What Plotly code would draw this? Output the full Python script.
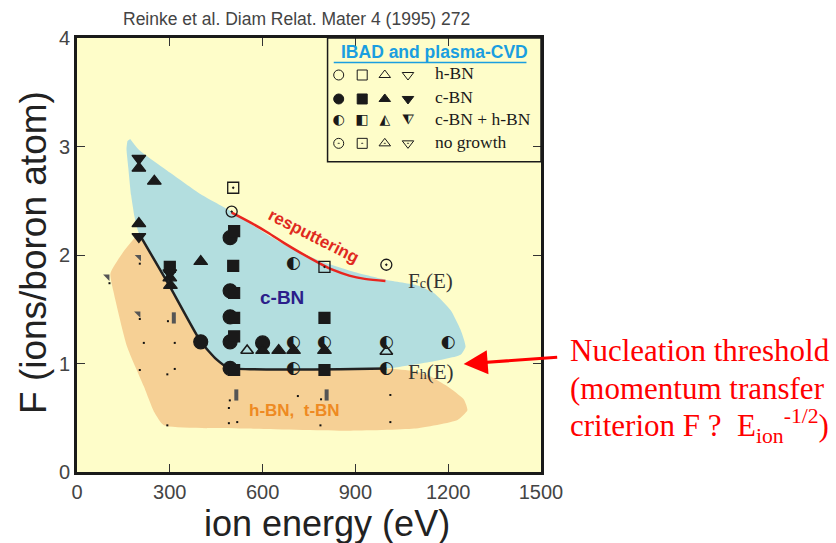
import plotly.graph_objects as go

# ---- phase regions (ion energy in eV, F in ions per boron atom) ----
cbn_region_x = [172, 200, 300, 400, 500, 560, 620, 700, 800, 900, 1000, 1101, 1154, 1208, 1240, 1256,
                1240, 1154, 1046, 1000, 490, 450, 400, 300, 200, 186, 175, 166, 160, 163]
cbn_region_y = [3.07, 2.97, 2.76, 2.56, 2.40, 2.29, 2.18, 2.05, 1.93, 1.84, 1.77, 1.72, 1.65, 1.49, 1.31,
                1.155, 1.08, 1.02, 0.97, 0.955, 0.96, 1.04, 1.20, 1.71, 2.20, 2.35, 2.55, 2.80, 2.98, 3.05]

hbn_region_x = [200, 300, 400, 450, 490, 1000, 1090, 1143, 1197, 1250, 1262, 1230, 1090, 875, 550, 281,
                250, 216, 162, 119, 108, 150, 190]
hbn_region_y = [2.20, 1.71, 1.20, 1.04, 0.96, 0.955, 0.93, 0.88, 0.79, 0.67, 0.57, 0.48, 0.40, 0.38, 0.40,
                0.43, 0.55, 0.79, 1.155, 1.65, 1.83, 2.03, 2.17]

# ---- boundary curves ----
fh_x = [200, 300, 400, 450, 490, 1000]
fh_y = [2.20, 1.71, 1.20, 1.04, 0.96, 0.955]

resputter_x = [500, 560, 615, 670, 723, 780, 830, 880, 930, 997]
resputter_y = [2.39, 2.30, 2.21, 2.11, 2.02, 1.93, 1.86, 1.81, 1.78, 1.76]

# ---- experimental points ----
cbn_circle_x = [495, 495, 495, 495, 495, 400, 600]
cbn_circle_y = [2.16, 1.67, 1.43, 1.20, 0.955, 1.20, 1.19]

cbn_square_x = [508, 505, 508, 508, 508, 508, 300, 800, 800]
cbn_square_y = [2.22, 1.90, 1.65, 1.42, 1.25, 0.94, 1.89, 1.42, 0.94]

cbn_tri_up_x = [200, 250, 200, 400, 300, 302, 600, 652, 700, 800]
cbn_tri_up_y = [2.80, 2.68, 2.29, 1.94, 1.79, 1.72, 1.12, 1.12, 1.12, 1.12]

cbn_tri_down_x = [200, 200, 300]
cbn_tri_down_y = [2.89, 2.17, 1.835]

hbn_tri_up_x = [550, 1000]
hbn_tri_up_y = [1.12, 1.11]

mixed_circle_x = [700, 700, 800, 1000, 1200, 700, 1000]
mixed_circle_y = [1.92, 1.19, 1.19, 1.19, 1.19, 0.955, 0.955]

nogrowth_circle_x = [500, 1000]
nogrowth_circle_y = [2.40, 1.91]

nogrowth_square_x = [505, 800]
nogrowth_square_y = [2.62, 1.89]

# partly hidden marks under the h-BN field
hidden_tri_x = [200, 98, 198]
hidden_tri_y = [1.98, 1.80, 1.46]
hidden_bar_x = [313, 515, 807]
hidden_bar_y = [1.42, 0.71, 0.71]
hidden_dot_x = [203, 105, 203, 294, 216, 316, 203, 316, 292, 494, 491, 518, 491, 714, 789, 787, 1013, 1013, 292]
hidden_dot_y = [1.92, 1.74, 1.41, 1.39, 1.19, 1.19, 0.94, 0.95, 0.90, 0.66, 0.59, 0.46, 0.45, 0.70, 0.67,
                0.43, 0.71, 0.46, 0.43]

# ---- legend key (inside the plot) ----
key_cols_x = [846, 922, 995, 1070]
key_rows_y = [3.659, 3.438, 3.238, 3.029]
key_labels = ["h-BN", "c-BN", "c-BN + h-BN", "no growth"]

x_ticks = [0, 300, 600, 900, 1200, 1500]
y_ticks = [0, 1, 2, 3, 4]

BG = "#fefdc9"
BLUE = "#b3dedf"
ORANGE = "#f6d095"
INK = "#1a1a1a"
SANS = "Liberation Sans, Arial, sans-serif"
NARROW = "Liberation Sans Narrow, Arial Narrow, Liberation Sans, Arial, sans-serif"
SERIF = "Liberation Serif, Times New Roman, serif"

fig = go.Figure()

fig.add_trace(go.Scatter(x=hbn_region_x, y=hbn_region_y, fill="toself", fillcolor=ORANGE,
                         mode="lines", line=dict(width=0, shape="spline", smoothing=0.5),
                         hoverinfo="skip"))
fig.add_trace(go.Scatter(x=cbn_region_x, y=cbn_region_y, fill="toself", fillcolor=BLUE,
                         mode="lines", line=dict(width=0, shape="spline", smoothing=0.5),
                         hoverinfo="skip"))

# hidden marks
fig.add_trace(go.Scatter(x=hidden_tri_x, y=hidden_tri_y, mode="markers",
                         marker=dict(symbol="triangle-ne", size=7, color="#555555")))
fig.add_trace(go.Scatter(x=hidden_bar_x, y=hidden_bar_y, mode="markers",
                         marker=dict(symbol="line-ns", size=8, line=dict(width=4, color="#555555"))))
fig.add_trace(go.Scatter(x=hidden_dot_x, y=hidden_dot_y, mode="markers",
                         marker=dict(symbol="square", size=2, color="#111111")))

# threshold curve and resputtering limit
fig.add_trace(go.Scatter(x=fh_x, y=fh_y, mode="lines",
                         line=dict(color="#222222", width=2.5, shape="spline", smoothing=0.4)))
fig.add_trace(go.Scatter(x=resputter_x, y=resputter_y, mode="lines",
                         line=dict(color="#e8251f", width=2.5, shape="spline")))

def pts(x, y, symbol, size, color=INK, lw=1.2):
    fig.add_trace(go.Scatter(x=x, y=y, mode="markers",
                             marker=dict(symbol=symbol, size=size, color=color,
                                         line=dict(width=lw, color=INK))))

pts(cbn_circle_x, cbn_circle_y, "circle", 14)
pts(cbn_square_x, cbn_square_y, "square", 11)
pts(cbn_tri_up_x, cbn_tri_up_y, "triangle-up", 12)
pts(cbn_tri_down_x, cbn_tri_down_y, "triangle-down", 12)
pts(hbn_tri_up_x, hbn_tri_up_y, "triangle-up-open", 11, lw=1.6)
pts(nogrowth_circle_x, nogrowth_circle_y, "circle-open-dot", 11, lw=1.3)
pts(nogrowth_square_x, nogrowth_square_y, "square-open-dot", 11, lw=1.3)
fig.add_trace(go.Scatter(x=mixed_circle_x, y=mixed_circle_y, mode="text", text=["◐"] * len(mixed_circle_x),
                         textfont=dict(family="DejaVu Sans", size=17, color=INK), textposition="middle center"))

# legend key symbols
key_symbols = [
    ["circle-open", "square-open", "triangle-up-open", "triangle-down-open"],
    ["circle", "square", "triangle-up", "triangle-down"],
    None,
    ["circle-open-dot", "square-open-dot", "triangle-up-open-dot", "triangle-down-open-dot"],
]
for r, syms in enumerate(key_symbols):
    if syms is None:
        fig.add_trace(go.Scatter(x=key_cols_x, y=[key_rows_y[r]] * 4, mode="text",
                                 text=["◐", "◧", "◭", "⧨"],
                                 textfont=dict(family="DejaVu Sans", size=14, color=INK)))
    else:
        fig.add_trace(go.Scatter(x=key_cols_x, y=[key_rows_y[r]] * 4, mode="markers",
                                 marker=dict(symbol=syms, size=10, color=INK, line=dict(width=1, color=INK))))
fig.add_trace(go.Scatter(x=[1157] * 4, y=key_rows_y, mode="text", text=key_labels, textposition="middle right",
                         textfont=dict(family=SERIF, size=17.5, color=INK)))

def note(x, y, text, font, ref="x", **kw):
    d = dict(x=x, y=y, xref=ref, yref=ref.replace("x", "y") if ref == "x" else ref, text=text,
             showarrow=False, xanchor="center", yanchor="middle", font=font)
    d.update(kw)
    return d

ann = []
ann.append(note(1156, 3.87, "<b>IBAD and plasma-CVD</b>", dict(family=SANS, size=17.5, color="#1a9ee0")))
ann.append(note(766, 2.17, "<b>resputtering</b>", dict(family=SANS, size=17, color="#e02a1e"), textangle=27))
ann.append(note(664, 1.61, "<b>c-BN</b>", dict(family=SANS, size=19, color="#2b1e8a")))
ann.append(note(703, 0.57, "<b>h-BN,  t-BN</b>", dict(family=SANS, size=17, color="#ee8a22")))
ann.append(note(1143, 1.76, "F<span style='font-size:14px'>c</span>(E)", dict(family=SERIF, size=21, color="#333333")))
ann.append(note(1145, 0.92, "F<span style='font-size:14px'>h</span>(E)", dict(family=SERIF, size=21, color="#333333")))
# red pointer to the threshold curve
ann.append(dict(x=1250, y=0.995, xref="x", yref="y", ax=95, ay=-7, axref="pixel", ayref="pixel",
                text="", showarrow=True, arrowhead=2, arrowsize=1.6, arrowwidth=3, arrowcolor="#ff0000"))
red_lines = ["Nucleation threshold", "(momentum transfer",
             "criterion F ?  E<sub>ion</sub><sup>-1/2</sup>)"]
for t, py in zip(red_lines, [350, 388, 426]):
    ann.append(dict(x=(568 - 77) / 464, y=(472 - py) / 434, xref="paper", yref="paper", text=t,
                    xanchor="left", yanchor="middle", showarrow=False,
                    font=dict(family=SERIF, size=31, color="#ff0000")))
ann.append(note((296 - 77) / 464, (472 - 19) / 434, "Reinke et al. Diam Relat. Mater 4 (1995) 272",
                dict(family=NARROW, size=17.5, color="#444444"), ref="paper"))
ann.append(note((327 - 77) / 464, (472 - 523) / 434, "ion energy (eV)",
                dict(family=SANS, size=36, color="#222222"), ref="paper"))
ann.append(note((33 - 77) / 464, (472 - 253) / 434, "F (ions/boron atom)",
                dict(family=SANS, size=37, color="#222222"), ref="paper", textangle=-90))

shapes = [
    dict(type="rect", xref="x", yref="y", x0=810, x1=1500, y0=2.86, y1=4, line=dict(color=INK, width=1.5),
         fillcolor="rgba(0,0,0,0)", layer="above"),
    dict(type="line", xref="x", yref="y", x0=830, x1=1453, y0=3.775, y1=3.775,
         line=dict(color="#1a9ee0", width=1.5)),
]

axis_common = dict(showline=True, linewidth=3, linecolor=INK, mirror="allticks", ticks="inside",
                   ticklen=8, tickwidth=1, tickcolor="#333333", showgrid=False, zeroline=False,
                   tickfont=dict(family=NARROW, size=20, color="#444444"))

fig.update_layout(
    width=836, height=543,
    margin=dict(l=77, r=295, t=38, b=71),
    paper_bgcolor="white", plot_bgcolor=BG,
    showlegend=False,
    xaxis=dict(range=[0, 1500], tickvals=x_ticks, **axis_common),
    yaxis=dict(range=[0, 4], tickvals=y_ticks, **axis_common),
    annotations=ann, shapes=shapes,
)

fig.write_html("out.html")
